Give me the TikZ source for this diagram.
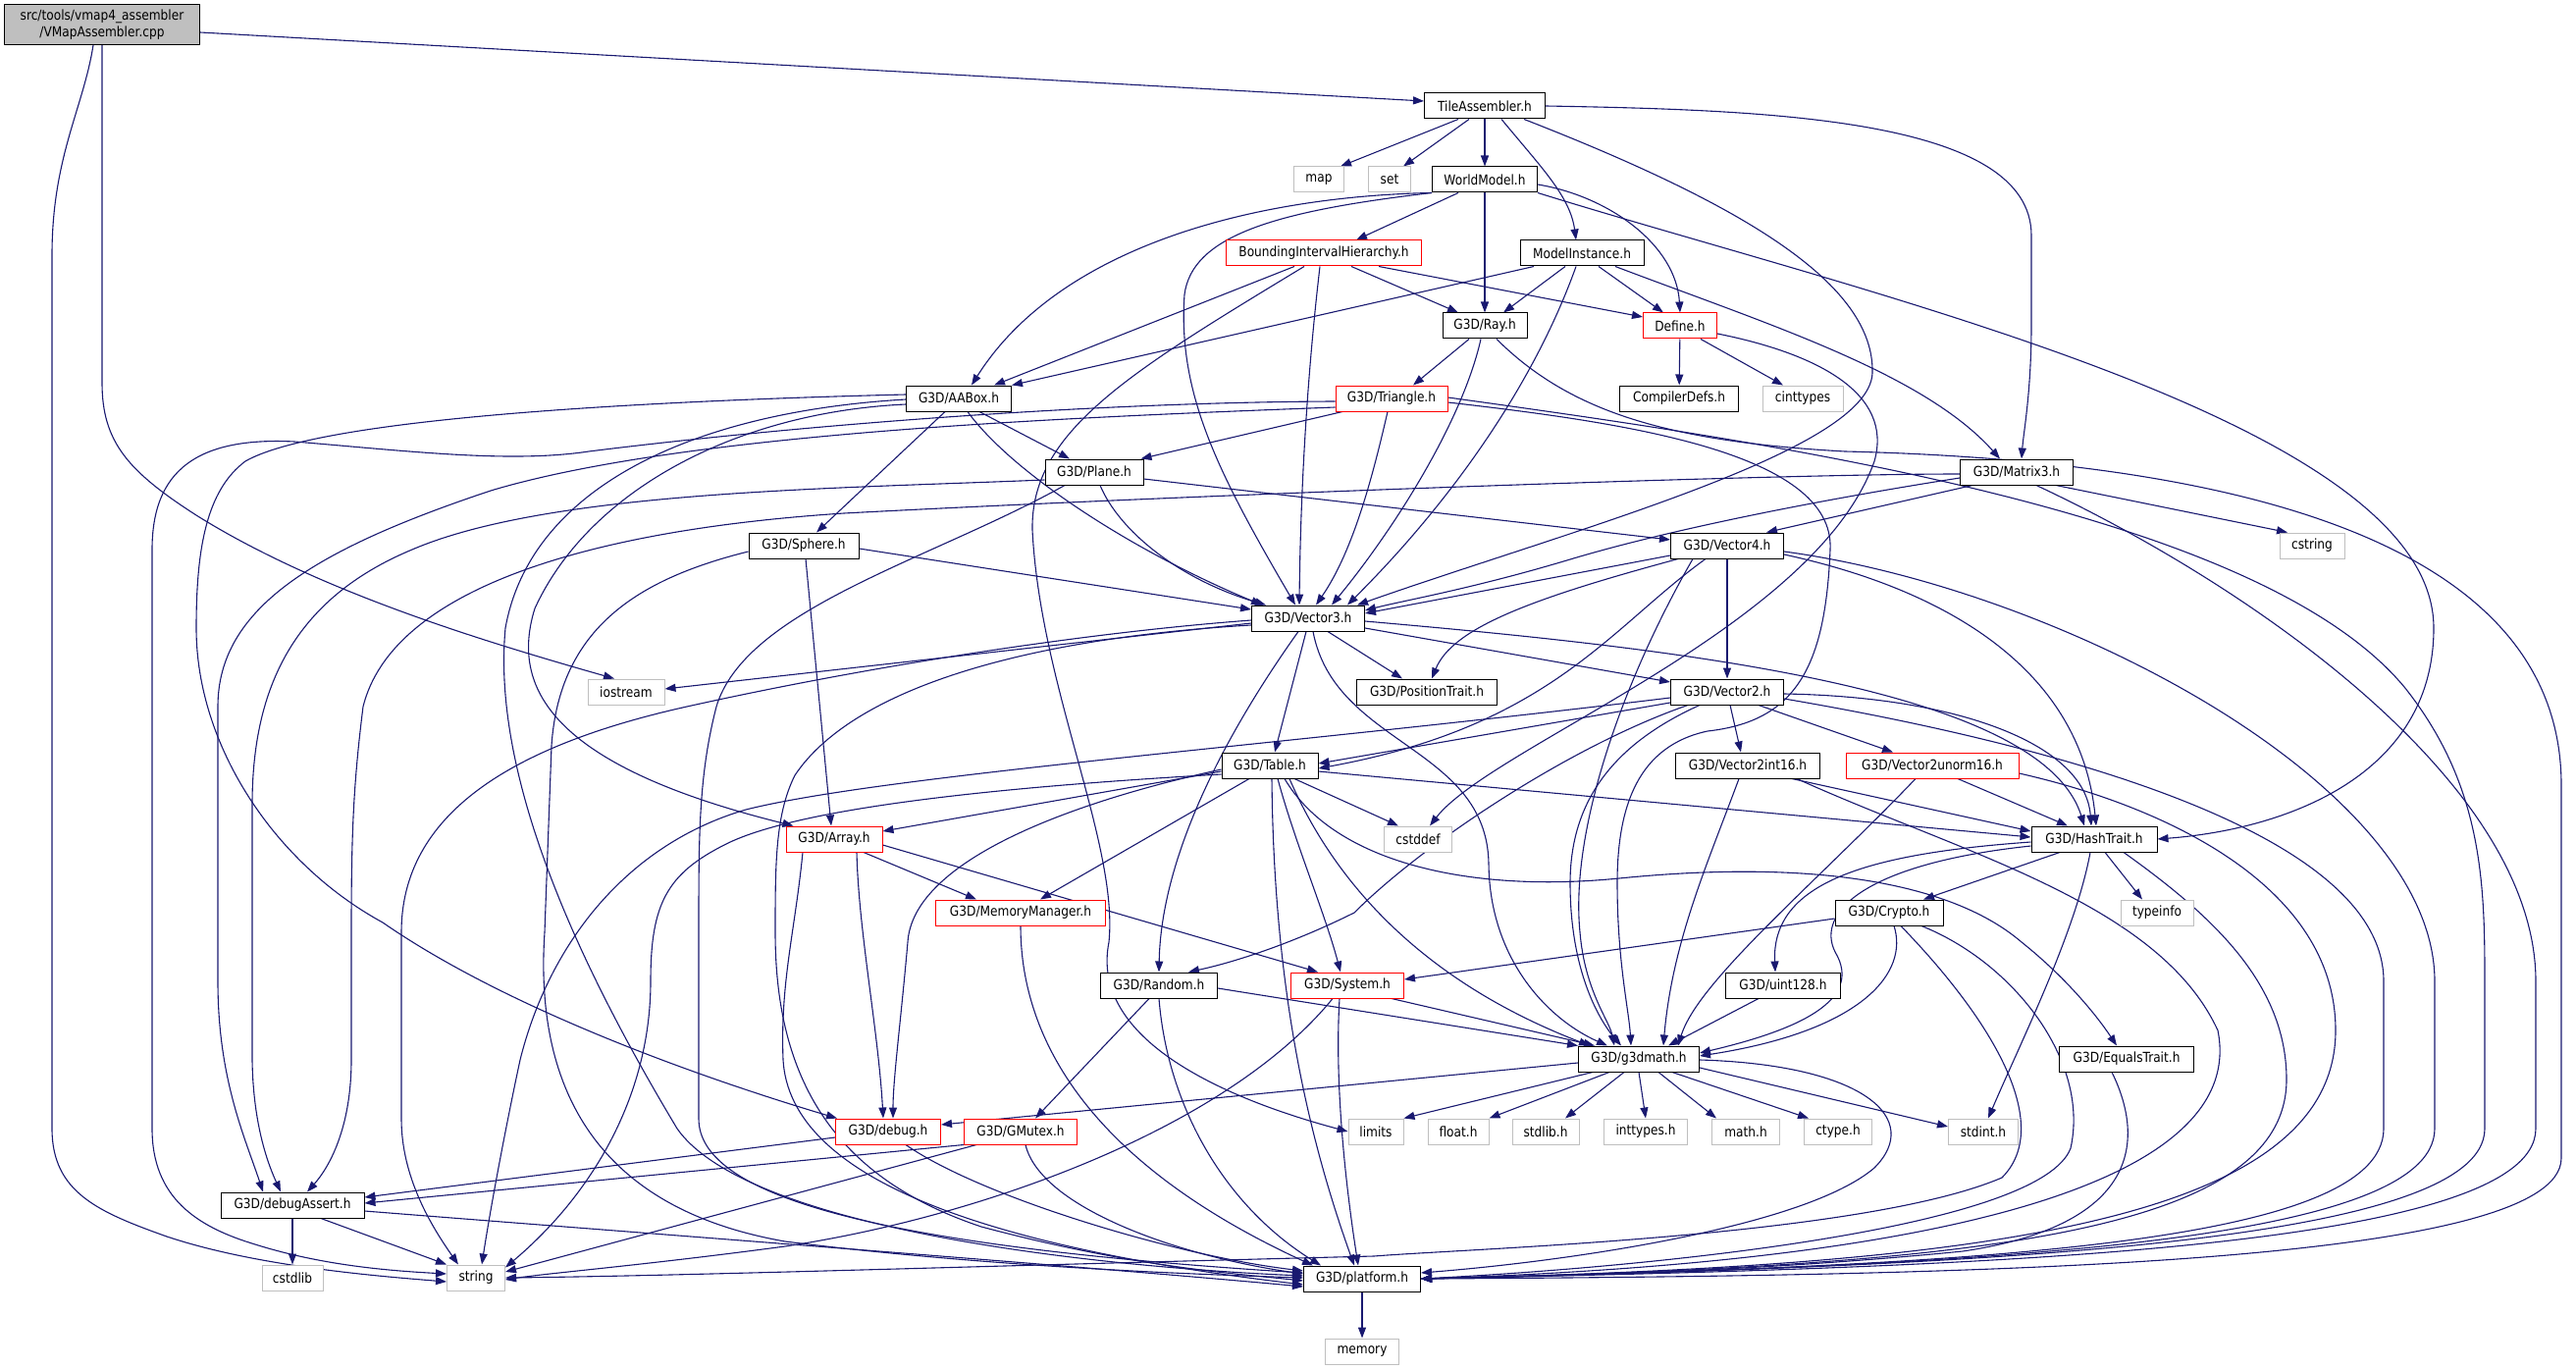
\documentclass[tikz,border=0pt]{standalone}
\usepackage{fontspec}
\setmainfont{DejaVu Sans}[FakeStretch=0.87]
\usetikzlibrary{arrows.meta}
\definecolor{edgec}{HTML}{191970}
\definecolor{grayc}{HTML}{BFBFBF}
\definecolor{rootg}{HTML}{BFBFBF}
\pgfdeclarelayer{bg}
\pgfsetlayers{bg,main}
\tikzset{
  nd/.style={draw=black, line width=1pt, fill=white, minimum height=26pt, inner xsep=3pt, inner ysep=0pt, font=\fontsize{14}{17}\selectfont},
  gr/.style={nd, draw=grayc},
  rd/.style={nd, draw=red},
  rt/.style={nd, fill=rootg, align=center, minimum width=199pt, minimum height=41pt},
  e/.style={draw=edgec, line width=1.1pt, -{Triangle[length=11pt,width=8pt]}},
}
\begin{document}
\begin{tikzpicture}[x=1pt,y=-1pt]
\useasboundingbox (0,0) rectangle (2625,1396);
% nodes
\node[rt] (root) at (104,25) {src/tools/vmap4\_assembler\\/VMapAssembler.cpp};
\node[nd,minimum width=123pt] (TA) at (1513,108) {TileAssembler.h};
\node[gr,minimum width=51pt] (map) at (1344,183) {map};
\node[gr,minimum width=43pt] (set) at (1416,183) {set};
\node[nd,minimum width=107pt] (WM) at (1513,183) {WorldModel.h};
\node[rd,minimum width=199pt] (BIH) at (1349,258) {BoundingIntervalHierarchy.h};
\node[nd,minimum width=126pt] (MI) at (1612,258) {ModelInstance.h};
\node[nd,minimum width=86pt] (Ray) at (1513,332) {G3D/Ray.h};
\node[rd,minimum width=75pt] (Def) at (1712,332) {Define.h};
\node[nd,minimum width=107pt] (AABox) at (977,406) {G3D/AABox.h};
\node[rd,minimum width=114pt] (Tri) at (1418,406) {G3D/Triangle.h};
\node[nd,minimum width=121pt] (CDefs) at (1711,406) {CompilerDefs.h};
\node[gr,minimum width=82pt] (cinttypes) at (1837,406) {cinttypes};
\node[nd,minimum width=100pt] (Plane) at (1115,481) {G3D/Plane.h};
\node[nd,minimum width=115pt] (M3) at (2055,481) {G3D/Matrix3.h};
\node[nd,minimum width=112pt] (Sphere) at (819,556) {G3D/Sphere.h};
\node[nd,minimum width=115pt] (V4) at (1760,556) {G3D/Vector4.h};
\node[gr,minimum width=66pt] (cstring) at (2356,556) {cstring};
\node[nd,minimum width=115pt] (V3) at (1333,630) {G3D/Vector3.h};
\node[gr,minimum width=78pt] (iostream) at (638,705) {iostream};
\node[nd,minimum width=143pt] (PosT) at (1454,705) {G3D/PositionTrait.h};
\node[nd,minimum width=115pt] (V2) at (1760,705) {G3D/Vector2.h};
\node[nd,minimum width=98pt] (Table) at (1294,780) {G3D/Table.h};
\node[nd,minimum width=147pt] (V2i16) at (1781,780) {G3D/Vector2int16.h};
\node[rd,minimum width=176pt] (V2u16) at (1969,780) {G3D/Vector2unorm16.h};
\node[rd,minimum width=98pt] (Array) at (850,855) {G3D/Array.h};
\node[gr,minimum width=69pt] (cstddef) at (1445,855) {cstddef};
\node[nd,minimum width=128pt] (Hash) at (2134,855) {G3D/HashTrait.h};
\node[rd,minimum width=173pt] (MemMgr) at (1040,930) {G3D/MemoryManager.h};
\node[nd,minimum width=110pt] (Crypto) at (1925,930) {G3D/Crypto.h};
\node[gr,minimum width=74pt] (typeinfo) at (2198,930) {typeinfo};
\node[nd,minimum width=119pt] (Random) at (1181,1004) {G3D/Random.h};
\node[rd,minimum width=115pt] (System) at (1373,1004) {G3D/System.h};
\node[nd,minimum width=117pt] (u128) at (1817,1004) {G3D/uint128.h};
\node[nd,minimum width=123pt] (g3d) at (1670,1079) {G3D/g3dmath.h};
\node[nd,minimum width=137pt] (Equals) at (2167,1079) {G3D/EqualsTrait.h};
\node[rd,minimum width=107pt] (debug) at (905,1153) {G3D/debug.h};
\node[rd,minimum width=115pt] (GMutex) at (1040,1153) {G3D/GMutex.h};
\node[gr,minimum width=56pt] (limits) at (1402,1153) {limits};
\node[gr,minimum width=62pt] (floath) at (1486,1153) {float.h};
\node[gr,minimum width=68pt] (stdlibh) at (1575,1153) {stdlib.h};
\node[gr,minimum width=85pt] (inttypesh) at (1677,1153) {inttypes.h};
\node[gr,minimum width=69pt] (mathh) at (1779,1153) {math.h};
\node[gr,minimum width=69pt] (ctypeh) at (1873,1153) {ctype.h};
\node[gr,minimum width=71pt] (stdinth) at (2021,1153) {stdint.h};
\node[nd,minimum width=146pt] (dAssert) at (298,1228) {G3D/debugAssert.h};
\node[gr,minimum width=62pt] (cstdlib) at (298,1302) {cstdlib};
\node[gr,minimum width=59pt] (string) at (485,1302) {string};
\node[nd,minimum width=119pt] (plat) at (1388,1303) {G3D/platform.h};
\node[gr,minimum width=75pt] (memory) at (1388,1377) {memory};
% edges
\begin{pgfonlayer}{bg}
% root
\draw[e] ([yshift=-8pt]root.east) -- ([yshift=5pt]TA.west);
\draw[e] (root.south) -- (104,390) .. controls (104,450) and (130,480) .. (200,525) .. controls (320,600) and (480,650) .. ([xshift=-12pt]iostream.north);
\draw[e] ([xshift=-9pt]root.south) .. controls (85,110) and (53,160) .. (53,260) -- (53,1150) .. controls (53,1215) and (100,1235) .. (170,1260) .. controls (260,1290) and (380,1300) .. ([yshift=-4pt]string.west);
% TileAssembler
\draw[e] ([xshift=-27pt]TA.south) -- ([xshift=22pt]map.north);
\draw[e] ([xshift=-16pt]TA.south) -- ([xshift=14pt]set.north);
\draw[e] (TA) -- (WM);
\draw[e] ([xshift=17pt]TA.south) .. controls (1570,170) and (1600,200) .. ([xshift=-6pt]MI.north);
\draw[e] ([xshift=40pt]TA.south) .. controls (1780,210) and (1910,290) .. (1908,380) .. controls (1905,460) and (1600,540) .. ([xshift=-8pt]V3.north east);
\draw[e] (TA.east) .. controls (1800,112) and (2070,120) .. (2070,240) -- (2070,330) .. controls (2070,400) and (2062,440) .. ([xshift=5pt]M3.north);
% WorldModel
\draw[e] (WM.south west) .. controls (1280,200) and (1080,250) .. ([xshift=13pt]AABox.north);
\draw[e] (WM.south west) .. controls (1300,215) and (1215,240) .. (1207,300) .. controls (1200,400) and (1240,480) .. ([xshift=-13pt]V3.north);
\draw[e] ([xshift=-27pt]WM.south) -- ([xshift=33pt]BIH.north);
\draw[e] (WM) -- (Ray);
\draw[e] ([yshift=-5pt]WM.east) .. controls (1640,200) and (1708,250) .. (Def.north);
\draw[e] (WM.south east) .. controls (1900,300) and (2480,430) .. (2480,640) .. controls (2480,790) and (2330,845) .. (Hash.east);
% BIH
\draw[e] ([xshift=-30pt]BIH.south) -- ([xshift=36pt]AABox.north);
\draw[e] ([xshift=28pt]BIH.south) -- ([xshift=-27pt]Ray.north);
\draw[e] ([xshift=56pt]BIH.south) -- ([yshift=9pt]Def.west);
\draw[e] ([xshift=-4pt]BIH.south) .. controls (1330,400) and (1325,520) .. ([xshift=-9pt]V3.north);
\draw[e] ([xshift=-20pt]BIH.south) .. controls (1150,380) and (1050,440) .. (1052,540) .. controls (1060,700) and (1140,860) .. (1130,960) .. controls (1110,1060) and (1250,1120) .. (limits.west);
% ModelInstance
\draw[e] ([xshift=-49pt]MI.south) -- (AABox.north east);
\draw[e] ([xshift=-17pt]MI.south) -- ([xshift=19pt]Ray.north);
\draw[e] ([xshift=17pt]MI.south) -- ([xshift=-17pt]Def.north);
\draw[e] ([xshift=-6pt]MI.south) .. controls (1560,400) and (1470,520) .. ([xshift=40pt]V3.north);
\draw[e] ([xshift=34pt]MI.south) .. controls (1800,330) and (1960,380) .. ([xshift=-17pt]M3.north);
% Define
\draw[e] (Def) -- (CDefs);
\draw[e] ([xshift=21pt]Def.south) -- ([xshift=-20pt]cinttypes.north);
\draw[e] ([yshift=-8pt]Def.east) .. controls (1850,360) and (1930,400) .. (1910,470) .. controls (1850,640) and (1520,760) .. ([xshift=12pt]cstddef.north);
% Ray
\draw[e] ([xshift=-16pt]Ray.south) -- ([xshift=22pt]Tri.north);
\draw[e] ([xshift=-4pt]Ray.south) .. controls (1490,430) and (1420,540) .. ([xshift=24pt]V3.north);
\draw[e] ([xshift=12pt]Ray.south) .. controls (1600,420) and (1700,450) .. (1880,460) .. controls (2300,470) and (2610,560) .. (2610,800) -- (2610,1180) .. controls (2610,1290) and (2000,1300) .. (plat.east);
% AABox
\draw[e] ([xshift=21pt]AABox.south) -- ([xshift=-25pt]Plane.north);
\draw[e] ([xshift=-14pt]AABox.south) -- ([xshift=13pt]Sphere.north);
\draw[e] ([xshift=9pt]AABox.south) .. controls (1030,480) and (1150,560) .. ([xshift=-47pt]V3.north);
\draw[e] ([yshift=4pt]AABox.west) .. controls (600,410) and (320,430) .. (250,470) .. controls (210,500) and (200,560) .. (200,640) .. controls (200,760) and (280,880) .. (390,940) .. controls (520,1030) and (720,1100) .. ([xshift=2pt]debug.north west);
\draw[e] ([yshift=-6pt]AABox.west) .. controls (750,420) and (600,500) .. (545,620) .. controls (520,700) and (560,780) .. ([xshift=8pt]Array.north west);
\draw[e] ([yshift=-1pt]AABox.west) .. controls (700,420) and (540,500) .. (515,640) .. controls (500,800) and (600,1000) .. (690,1150) .. controls (760,1250) and (1100,1290) .. ([yshift=3pt]plat.west);
% Triangle
\draw[e] ([xshift=-50pt]Tri.south) -- ([xshift=-3pt]Plane.north east);
\draw[e] ([xshift=-4pt]Tri.south) .. controls (1400,480) and (1380,560) .. ([xshift=8pt]V3.north);
\draw[e] ([yshift=-3pt]Tri.west) .. controls (1100,410) and (800,435) .. (600,460) .. controls (520,472) and (420,460) .. (300,450) .. controls (200,445) and (155,480) .. (155,560) -- (155,1150) .. controls (155,1220) and (200,1250) .. (260,1268) .. controls (330,1290) and (400,1295) .. ([yshift=4pt]string.west);
\draw[e] ([yshift=-9pt]Tri.west) .. controls (1100,425) and (700,440) .. (500,500) .. controls (320,560) and (222,620) .. (222,720) -- (222,1000) .. controls (222,1100) and (250,1160) .. ([xshift=-30pt]dAssert.north);
\draw[e] ([yshift=-4pt]Tri.east) .. controls (1650,430) and (1870,460) .. (1865,560) .. controls (1860,680) and (1830,735) .. (1740,745) .. controls (1670,760) and (1648,820) .. (1648,900) .. controls (1648,980) and (1660,1030) .. ([xshift=-8pt]g3d.north);
\draw[e] ([yshift=1pt]Tri.east) .. controls (1800,450) and (2300,520) .. (2450,700) .. controls (2530,800) and (2532,900) .. (2532,1000) -- (2532,1150) .. controls (2532,1270) and (2000,1290) .. (plat.east);
% Plane
\draw[e] ([xshift=6pt]Plane.south) .. controls (1140,540) and (1200,590) .. ([xshift=-43pt]V3.north);
\draw[e] ([yshift=-7pt]Plane.east) -- ([yshift=6pt]V4.west);
\draw[e] ([yshift=-8pt]Plane.west) .. controls (850,498) and (560,500) .. (420,560) .. controls (300,610) and (257,700) .. (257,820) -- (257,1080) .. controls (258,1150) and (275,1190) .. ([xshift=-12pt]dAssert.north);
\draw[e] ([xshift=-30pt]Plane.south) .. controls (950,570) and (760,620) .. (730,720) .. controls (712,790) and (712,850) .. (712,950) -- (712,1140) .. controls (712,1220) and (900,1270) .. ([yshift=6pt]plat.west);
% Sphere
\draw[e] ([yshift=-3pt]Sphere.east) -- ([yshift=9pt]V3.west);
\draw[e] ([xshift=2pt]Sphere.south) -- ([xshift=-3pt]Array.north);
\draw[e] ([yshift=-6pt]Sphere.west) .. controls (650,590) and (570,640) .. (562,760) -- (555,950) .. controls (545,1100) and (600,1230) .. (800,1265) .. controls (1000,1290) and (1200,1298) .. ([yshift=1pt]plat.west);
% Matrix3
\draw[e] ([yshift=-2pt]M3.west) .. controls (1800,483) and (1200,505) .. (860,523) .. controls (600,540) and (400,600) .. (370,720) .. controls (360,800) and (358,850) .. (358,950) -- (358,1080) .. controls (358,1150) and (335,1190) .. ([xshift=15pt]dAssert.north);
\draw[e] ([yshift=-6pt]M3.west) .. controls (1850,510) and (1700,540) .. (1600,570) .. controls (1500,600) and (1430,612) .. ([yshift=8pt]V3.east);
\draw[e] ([xshift=-45pt]M3.south) -- ([xshift=40pt]V4.north);
\draw[e] ([xshift=40pt]M3.south) -- ([xshift=-25pt]cstring.north);
\draw[e] ([xshift=20pt]M3.south) .. controls (2300,600) and (2584,800) .. (2584,1000) -- (2584,1150) .. controls (2584,1275) and (2000,1292) .. (plat.east);
% Vector4
\draw[e] ([yshift=-10pt]V4.west) -- ([yshift=5pt]V3.east);
\draw[e] ([xshift=-50pt]V4.south) .. controls (1560,610) and (1480,640) .. ([xshift=5pt]PosT.north);
\draw[e] (V4) -- (V2);
\draw[e] ([xshift=-22pt]V4.south) .. controls (1640,640) and (1580,740) .. ([yshift=-3pt]Table.east);
\draw[e] ([yshift=-9pt]V4.east) .. controls (1980,600) and (2120,680) .. ([xshift=2pt]Hash.north);
\draw[e] ([xshift=-35pt]V4.south) .. controls (1650,700) and (1600,850) .. (1610,950) .. controls (1615,1010) and (1640,1040) .. ([xshift=-25pt]g3d.north);
\draw[e] ([yshift=-6pt]V4.east) .. controls (2100,600) and (2481,800) .. (2481,1000) -- (2481,1150) .. controls (2481,1270) and (2000,1290) .. (plat.east);
% Vector3
\draw[e] ([yshift=-5pt]V3.west) -- ([yshift=3pt]iostream.east);
\draw[e] ([yshift=-2pt]V3.west) .. controls (1100,645) and (880,680) .. (700,720) .. controls (520,760) and (409,830) .. (409,950) -- (409,1140) .. controls (409,1200) and (440,1250) .. ([xshift=-18pt]string.north);
\draw[e] ([xshift=20pt]V3.south) -- ([xshift=-25pt]PosT.north);
\draw[e] ([yshift=-10pt]V3.east) -- ([yshift=10pt]V2.west);
\draw[e] ([xshift=-2pt]V3.south) -- ([xshift=5pt]Table.north);
\draw[e] ([xshift=-10pt]V3.south) .. controls (1240,760) and (1183,880) .. (Random.north);
\draw[e] ([xshift=5pt]V3.south) .. controls (1360,760) and (1515,760) .. (1517,880) .. controls (1518,980) and (1580,1040) .. ([xshift=-32pt]g3d.north);
\draw[e] ([yshift=-3pt]V3.east) .. controls (1700,660) and (2080,700) .. ([xshift=-10pt]Hash.north);
\draw[e] ([yshift=-7pt]V3.west) .. controls (1050,650) and (870,700) .. (810,790) .. controls (790,830) and (790,880) .. (790,950) .. controls (790,1100) and (850,1200) .. (1000,1250) .. controls (1150,1290) and (1250,1297) .. ([yshift=-2pt]plat.west);
% Vector2
\draw[e] ([yshift=-11pt]V2.west) -- ([yshift=2pt]Table.east);
\draw[e] ([yshift=-6pt]V2.west) .. controls (1300,760) and (900,790) .. (760,825) .. controls (640,860) and (560,960) .. (530,1080) .. controls (515,1150) and (500,1230) .. ([xshift=6pt]string.north);
\draw[e] ([xshift=-40pt]V2.south) .. controls (1600,760) and (1450,860) .. (1380,930) .. controls (1320,960) and (1260,980) .. ([xshift=30pt]Random.north);
\draw[e] ([xshift=-28pt]V2.south) .. controls (1640,760) and (1600,820) .. (1600,900) .. controls (1600,990) and (1630,1040) .. ([xshift=-18pt]g3d.north);
\draw[e] ([xshift=3pt]V2.south) -- ([xshift=-7pt]V2i16.north);
\draw[e] ([xshift=32pt]V2.south) -- ([xshift=-40pt]V2u16.north);
\draw[e] ([yshift=-2pt]V2.east) .. controls (2000,710) and (2125,760) .. ([xshift=-3pt]Hash.north);
\draw[e] ([yshift=-7pt]V2.east) .. controls (2100,760) and (2429,850) .. (2429,1000) -- (2429,1150) .. controls (2429,1270) and (2000,1290) .. (plat.east);
% Table
\draw[e] ([yshift=-6pt]Table.west) -- ([yshift=8pt]Array.east);
\draw[e] ([xshift=-21pt]Table.south) -- ([xshift=20pt]MemMgr.north);
\draw[e] ([yshift=-4pt]Table.west) .. controls (1080,820) and (930,880) .. (925,960) .. controls (918,1040) and (910,1100) .. ([xshift=5pt]debug.north);
\draw[e] ([yshift=-9pt]Table.west) .. controls (1050,800) and (820,820) .. (740,860) .. controls (680,890) and (663,920) .. (663,1000) .. controls (663,1120) and (600,1220) .. ([yshift=-3pt]string.north east);
\draw[e] ([xshift=8pt]Table.south) .. controls (1320,860) and (1350,930) .. ([xshift=-7pt]System.north);
\draw[e] ([xshift=20pt]Table.south) .. controls (1360,900) and (1450,1000) .. ([xshift=-50pt]g3d.north);
\draw[e] ([xshift=25pt]Table.south) -- ([xshift=-20pt]cstddef.north);
\draw[e] ([yshift=-6pt]Table.east) -- ([yshift=2pt]Hash.west);
\draw[e] ([xshift=15pt]Table.south) .. controls (1360,880) and (1500,910) .. (1650,895) .. controls (1850,875) and (1990,900) .. (2060,960) .. controls (2110,1000) and (2140,1040) .. ([xshift=-10pt]Equals.north);
\draw[e] ([xshift=2pt]Table.south) .. controls (1298,1000) and (1330,1150) .. ([xshift=-8pt]plat.north);
% Array
\draw[e] ([xshift=23pt]Array.south) .. controls (875,950) and (895,1050) .. ([xshift=-5pt]debug.north);
\draw[e] ([xshift=30pt]Array.south) -- ([xshift=-45pt]MemMgr.north);
\draw[e] ([yshift=-6pt]Array.east) -- ([xshift=-30pt]System.north);
\draw[e] ([xshift=-32pt]Array.south) .. controls (810,950) and (795,1000) .. (798,1080) .. controls (805,1200) and (1000,1270) .. ([yshift=-6pt]plat.west);
% MemoryManager
\draw[e] (MemMgr.south) .. controls (1040,1050) and (1100,1180) .. ([xshift=-50pt]plat.north);
% Random
\draw[e] ([yshift=-3pt]Random.east) -- (g3d.north west);
\draw[e] ([xshift=-10pt]Random.south) -- ([xshift=15pt]GMutex.north);
\draw[e] (Random.south) .. controls (1190,1130) and (1250,1230) .. ([xshift=-42pt]plat.north);
% System
\draw[e] ([xshift=45pt]System.south) -- ([xshift=-45pt]g3d.north);
\draw[e] ([xshift=-8pt]System.south) .. controls (1360,1100) and (1370,1200) .. ([xshift=-4pt]plat.north);
\draw[e] ([xshift=-15pt]System.south) .. controls (1250,1150) and (1000,1240) .. (800,1270) .. controls (650,1290) and (560,1297) .. ([yshift=-2pt]string.east);
% g3dmath
\draw[e] ([yshift=-4pt]g3d.west) -- ([yshift=7pt]debug.east);
\draw[e] ([xshift=-47pt]g3d.south) -- (limits.north east);
\draw[e] ([xshift=-30pt]g3d.south) -- (floath.north east);
\draw[e] ([xshift=-15pt]g3d.south) -- ([xshift=20pt]stdlibh.north);
\draw[e] (g3d.south) -- (inttypesh.north);
\draw[e] ([xshift=20pt]g3d.south) -- ([xshift=-30pt]mathh.north);
\draw[e] ([xshift=34pt]g3d.south) -- ([xshift=-30pt]ctypeh.north);
\draw[e] ([yshift=-9pt]g3d.east) -- ([yshift=5pt]stdinth.west);
\draw[e] ([yshift=-1pt]g3d.east) .. controls (1900,1085) and (1960,1140) .. (1910,1190) .. controls (1840,1250) and (1600,1285) .. ([yshift=6pt]plat.east);
% debug
\draw[e] ([yshift=-6pt]debug.west) -- ([yshift=8pt]dAssert.east);
\draw[e] ([xshift=18pt]debug.south) .. controls (1000,1220) and (1200,1280) .. ([yshift=8pt]plat.west);
% GMutex
\draw[e] (GMutex.south west) -- ([yshift=2pt]dAssert.east);
\draw[e] ([xshift=-45pt]GMutex.south) -- ([yshift=6pt]string.east);
\draw[e] ([xshift=5pt]GMutex.south) .. controls (1060,1230) and (1200,1280) .. ([yshift=5pt]plat.west);
% debugAssert
\draw[e] (dAssert) -- (cstdlib);
\draw[e] ([xshift=29pt]dAssert.south) -- (string.north west);
\draw[e] ([yshift=-6pt]dAssert.east) .. controls (700,1260) and (1100,1290) .. ([yshift=-8pt]plat.west);
% HashTrait
\draw[e] ([xshift=-35pt]Hash.south) -- ([xshift=35pt]Crypto.north);
\draw[e] ([xshift=11pt]Hash.south) -- ([xshift=-15pt]typeinfo.north);
\draw[e] ([yshift=-3pt]Hash.west) .. controls (1900,870) and (1805,900) .. ([xshift=-8pt]u128.north);
\draw[e] ([yshift=-7pt]Hash.west) .. controls (1900,880) and (1850,930) .. (1870,970) .. controls (1900,1020) and (1830,1050) .. ([yshift=6pt]g3d.east);
\draw[e] ([xshift=-4pt]Hash.south) .. controls (2115,950) and (2060,1060) .. ([xshift=5pt]stdinth.north);
\draw[e] ([xshift=30pt]Hash.south) .. controls (2250,930) and (2330,1000) .. (2330,1100) .. controls (2330,1260) and (2000,1290) .. (plat.east);
% Crypto
\draw[e] ([yshift=-6pt]Crypto.west) -- ([yshift=6pt]System.east);
\draw[e] ([xshift=5pt]Crypto.south) .. controls (1945,990) and (1900,1050) .. ([yshift=3pt]g3d.east);
\draw[e] ([xshift=33pt]Crypto.south) .. controls (2050,980) and (2130,1080) .. (2110,1170) .. controls (2080,1250) and (1700,1290) .. (plat.east);
\draw[e] ([xshift=12pt]Crypto.south) .. controls (2040,1050) and (2090,1150) .. (2040,1200) .. controls (1900,1260) and (1500,1272) .. (1400,1280) .. controls (1000,1290) and (700,1300) .. (string.east);
% others
\draw[e] ([xshift=-25pt]u128.south) -- ([xshift=30pt]g3d.north);
\draw[e] ([xshift=-9pt]V2i16.south) .. controls (1740,880) and (1704,960) .. ([xshift=25pt]g3d.north);
\draw[e] ([xshift=45pt]V2i16.south) -- ([yshift=8pt]Hash.west);
\draw[e] ([xshift=50pt]V2i16.south) .. controls (2000,870) and (2200,920) .. (2260,1050) .. controls (2290,1200) and (2000,1285) .. (plat.east);
\draw[e] ([xshift=-17pt]V2u16.south) .. controls (1850,900) and (1730,1000) .. ([xshift=40pt]g3d.north);
\draw[e] ([xshift=26pt]V2u16.south) -- ([xshift=-27pt]Hash.north);
\draw[e] ([yshift=-8pt]V2u16.east) .. controls (2200,820) and (2380,900) .. (2380,1050) .. controls (2380,1250) and (2000,1290) .. (plat.east);
\draw[e] ([xshift=-15pt]Equals.south) .. controls (2190,1170) and (2170,1250) .. (2000,1275) .. controls (1800,1295) and (1600,1300) .. (plat.east);
\draw[e] (plat) -- (memory);
\end{pgfonlayer}
\end{tikzpicture}
\end{document}
